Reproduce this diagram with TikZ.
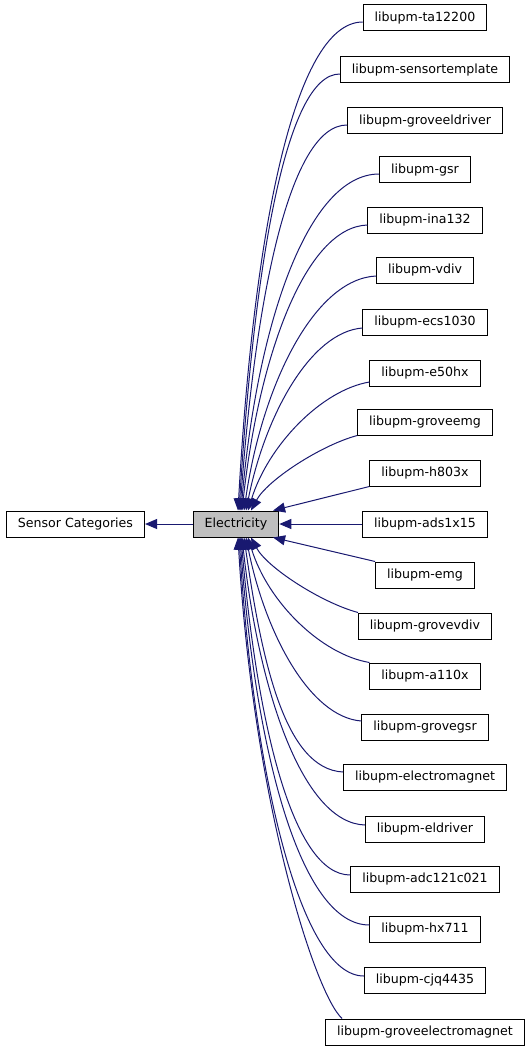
\documentclass[tikz,border=0pt]{standalone}
\usepackage{fontspec}
\setmainfont{DejaVu Sans}
\usepackage{xcolor}
\usepackage{tikz}
\usetikzlibrary{arrows.meta, positioning}
\definecolor{edgeblue}{HTML}{191970}
\definecolor{nodegray}{HTML}{BFBFBF}

\begin{document}
\begin{tikzpicture}[x=1pt, y=-1pt,
		box/.style={draw=black, line width=1pt, fill=white, minimum height=26pt, inner xsep=11.5pt, inner ysep=0pt, font=\fontsize{12.6}{14}\selectfont},
		edge/.style={draw=edgeblue, line width=1pt, -{Triangle[length=12pt, width=10pt]}}]
		\useasboundingbox (0,0) rectangle (531,1051);
		% Nodes:
		\node[box] (sc) at (75.5, 524){Sensor Categories};
		\node[box, fill=nodegray] (el) at (236, 524){Electricity};
		\node[box] (ta) at (425, 18){libupm-ta12200};
		\node[box] (st) at (425, 70){libupm-sensortemplate};
		\node[box] (ged) at (425, 121){libupm-groveeldriver};
		\node[box] (gsr) at (425, 170){libupm-gsr};
		\node[box] (ina) at (425, 220){libupm-ina132};
		\node[box] (vd) at (425, 270){libupm-vdiv};
		\node[box] (ecs) at (425, 322){libupm-ecs1030};
		\node[box] (e50) at (425, 373){libupm-e50hx};
		\node[box] (gemg) at (425, 422){libupm-groveemg};
		\node[box] (h80) at (425, 473){libupm-h803x};
		\node[box] (ads) at (425, 524){libupm-ads1x15};
		\node[box] (emg) at (425, 575){libupm-emg};
		\node[box] (gvd) at (425, 626){libupm-grovevdiv};
		\node[box] (a11) at (425, 676){libupm-a110x};
		\node[box] (ggsr) at (425, 727){libupm-grovegsr};
		\node[box] (em) at (425, 777){libupm-electromagnet};
		\node[box] (eld) at (425, 829){libupm-eldriver};
		\node[box] (adc) at (425, 879){libupm-adc121c021};
		\node[box] (hx) at (425, 929){libupm-hx711};
		\node[box] (cjq) at (425, 980){libupm-cjq4435};
		\node[box] (gem) at (425, 1032){libupm-groveelectromagnet};
		% Edges:
		\draw[edge] (el) -- (sc);
		\draw[edge] ([yshift=-4pt]ta.west) .. controls +(-70,0) and +(15,-270) .. ([xshift=2pt]el.north);
		\draw[edge] ([yshift=-4pt]st.west) .. controls +(-55,0) and +(15,-240) .. ([xshift=3pt]el.north);
		\draw[edge] ([yshift=-4pt]ged.west) .. controls +(-58,0) and +(15,-210) .. ([xshift=4pt]el.north);
		\draw[edge] ([yshift=-4pt]gsr.west) .. controls +(-72,0) and +(16,-185) .. ([xshift=5pt]el.north);
		\draw[edge] ([yshift=-5pt]ina.west) .. controls +(-62,2) and +(17,-155) .. ([xshift=6pt]el.north);
		\draw[edge] ([yshift=-6pt]vd.west) .. controls +(-62,3) and +(18,-125) .. ([xshift=8pt]el.north);
		\draw[edge] ([yshift=-6pt]ecs.west) .. controls +(-52,4) and +(19,-95) .. ([xshift=10pt]el.north);
		\draw[edge] ([yshift=-9pt]e50.west) .. controls +(-48,8) and +(20,-65) .. ([xshift=12pt]el.north);
		\draw[edge] (gemg.south west) .. controls +(-37,10) and +(16,-30) .. ([xshift=15pt]el.north);
		\draw[edge] (h80.south west) -- (el.20);
		\draw[edge] (ads) -- (el);
		\draw[edge] (emg.north west) -- (el.-20);
		\draw[edge] (gvd.north west) .. controls +(-37,-10) and +(16,30) .. ([xshift=15pt]el.south);
		\draw[edge] (a11.north west) .. controls +(-48,-8) and +(20,65) .. ([xshift=12pt]el.south);
		\draw[edge] ([yshift=6pt]ggsr.west) .. controls +(-52,-4) and +(19,95) .. ([xshift=10pt]el.south);
		\draw[edge] ([yshift=5pt]em.west) .. controls +(-58,-3) and +(18,125) .. ([xshift=8pt]el.south);
		\draw[edge] ([yshift=4pt]eld.west) .. controls +(-62,-2) and +(17,155) .. ([xshift=6pt]el.south);
		\draw[edge] ([yshift=4pt]adc.west) .. controls +(-58,0) and +(16,185) .. ([xshift=5pt]el.south);
		\draw[edge] ([yshift=4pt]hx.west) .. controls +(-70,0) and +(15,210) .. ([xshift=4pt]el.south);
		\draw[edge] ([yshift=4pt]cjq.west) .. controls +(-63,0) and +(15,240) .. ([xshift=3pt]el.south);
		\draw[edge] ([xshift=17pt]gem.north west) .. controls +(-27,-24) and +(15,263) .. ([xshift=2pt]el.south);
	\end{tikzpicture}
\end{document}
